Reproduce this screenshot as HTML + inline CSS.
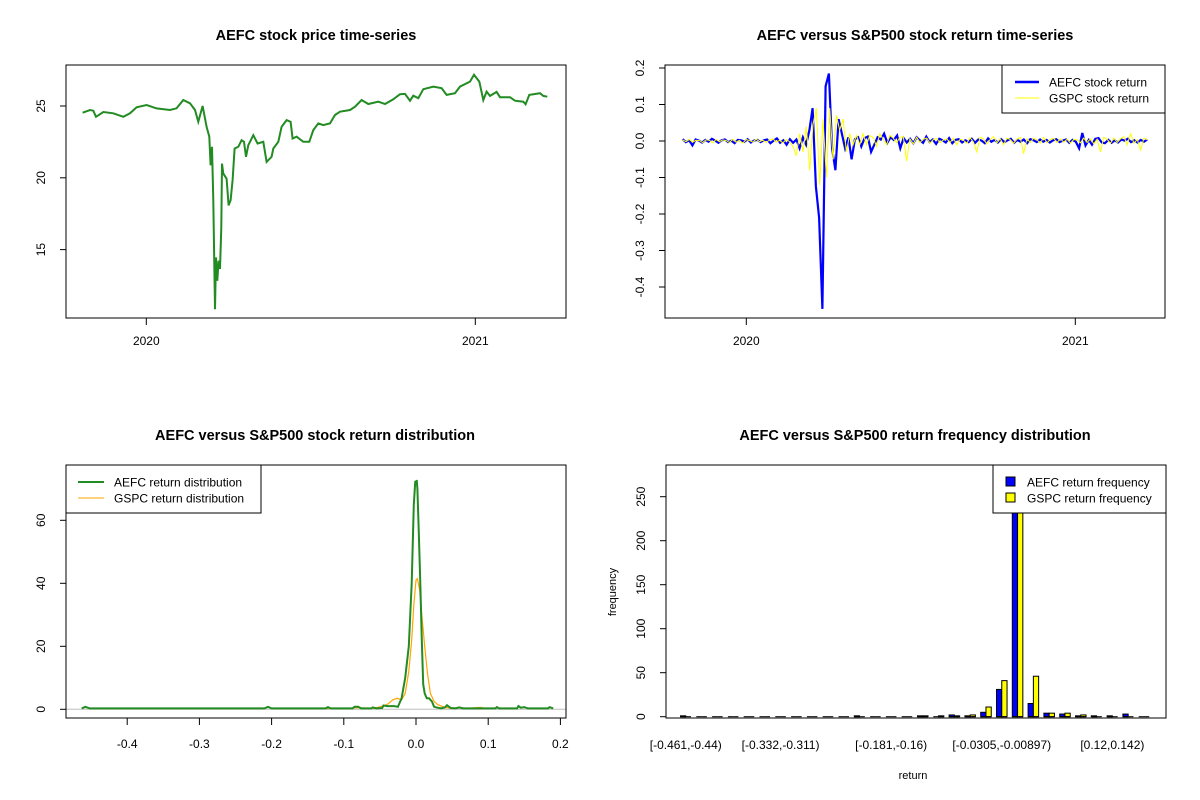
<!DOCTYPE html>
<html><head><meta charset="utf-8"><style>
html,body{margin:0;padding:0;background:#fff;}
svg{display:block;font-family:"Liberation Sans",Arial,sans-serif;}
</style></head><body>
<svg id="c" width="1200" height="800" viewBox="0 0 1200 800"></svg>
<script>
// ---------- DATA ----------
const priceYears = [-0.1935,-0.1712,-0.1611,-0.1530,-0.1307,-0.1003,-0.0699,-0.0496,-0.0294,0.0010,0.0314,0.0719,0.0922,0.1125,0.1327,0.1479,0.1581,0.1712,0.1834,0.1915,0.1955,0.1996,0.2036,0.2087,0.2118,0.2158,0.2199,0.2239,0.2280,0.2300,0.2340,0.2442,0.2503,0.2563,0.2624,0.2685,0.2796,0.2898,0.2969,0.3029,0.3100,0.3252,0.3384,0.3556,0.3658,0.3810,0.3860,0.4012,0.4113,0.4265,0.4387,0.4448,0.4569,0.4772,0.4954,0.5076,0.5228,0.5380,0.5583,0.5735,0.5887,0.6191,0.6342,0.6545,0.6748,0.7052,0.7254,0.7508,0.7710,0.7862,0.8014,0.8116,0.8267,0.8419,0.8723,0.8977,0.9129,0.9382,0.9534,0.9838,0.9959,1.0122,1.0243,1.0344,1.0446,1.0648,1.0750,1.1054,1.1206,1.1459,1.1530,1.1641,1.1966,1.2067,1.2188];
const priceValues = [24.53,24.72,24.67,24.25,24.58,24.49,24.25,24.49,24.91,25.07,24.83,24.72,24.84,25.42,25.19,24.72,23.90,25.00,23.55,22.86,20.87,22.16,18.43,10.85,14.46,12.83,14.23,13.65,16.56,20.99,20.29,19.94,18.08,18.43,19.83,22.04,22.16,22.62,22.51,21.46,22.27,22.97,22.39,22.51,21.11,21.46,22.04,22.51,23.55,24.02,23.90,22.74,22.86,22.51,22.51,23.32,23.79,23.67,23.79,24.37,24.60,24.72,24.95,25.42,25.14,25.30,25.14,25.47,25.82,25.84,25.37,25.72,25.54,26.17,26.35,26.24,25.77,25.89,26.35,26.70,27.17,26.70,25.42,26.00,25.70,25.98,25.61,25.61,25.37,25.30,25.12,25.77,25.89,25.70,25.65];
const priceTicks = [15,20,25];
const yearTicks = [0,1];
const yearLabels = ["2020","2021"];

const aefcReturns = [0.005,-0.003,0.002,-0.012,0.004,0.001,-0.004,0.003,-0.002,0.006,0.001,-0.005,0.002,0.004,-0.003,0.001,-0.006,0.003,0.002,-0.002,0.005,-0.004,0.001,0.003,-0.003,0.002,0.004,-0.006,0.001,0.007,-0.005,0.002,-0.01,0.005,
-0.005,0.004,-0.02,0.01,-0.01,0.03,0.09,-0.125,-0.21,-0.46,0.15,0.185,-0.02,-0.08,0.06,0.02,-0.02,0.01,-0.05,0.005,
0.01,-0.015,0.008,0.012,-0.03,-0.01,0.01,0.004,0.02,-0.005,0.01,0.003,0.015,-0.02,0.008,-0.004,0.006,-0.006,0.01,0.002,-0.005,0.012,-0.003,0.004,-0.008,0.006,0.002,-0.004,0.008,-0.006,0.003,0.005,-0.004,0.002,-0.003,0.006,-0.005,0.004,0.001,-0.006,0.007,-0.002,0.003,-0.004,0.005,-0.003,0.002,0.006,-0.005,0.003,-0.002,0.004,-0.006,0.005,0.002,-0.003,0.004,-0.002,0.003,-0.004,0.002,0.005,-0.003,0.001,0.004,-0.005,0.003,-0.002,-0.02,0.022,-0.012,0.003,-0.01,0.006,0.008,-0.004,-0.006,0.003,-0.005,0.002,-0.004,0.004,0.001,0.006,-0.003,0.002,-0.004,0.003,-0.002,0.004];
const gspcReturns = [0.003,-0.002,0.004,-0.003,0.002,0.001,-0.004,0.003,0.002,-0.005,0.004,-0.002,0.003,0.001,-0.004,0.005,-0.003,0.002,-0.006,0.004,0.001,-0.003,0.005,-0.002,0.002,-0.004,0.003,0.006,-0.003,0.002,-0.005,0.004,-0.002,
-0.015,-0.04,0.02,-0.03,0.04,-0.08,0.045,0.09,-0.12,0.06,-0.1,0.09,-0.05,0.07,0.03,0.06,-0.03,0.02,-0.01,0.015,-0.01,
0.02,-0.01,0.015,0.01,-0.015,0.02,0.005,-0.01,0.015,0.008,-0.005,0.01,0.012,-0.055,0.006,-0.008,0.01,-0.004,0.005,0.008,-0.006,0.004,0.007,-0.005,0.003,0.006,-0.004,0.008,-0.01,0.005,0.002,-0.006,0.009,-0.003,-0.03,0.01,0.006,-0.008,0.004,0.012,-0.005,0.006,-0.01,0.008,0.004,-0.006,0.005,0.01,-0.035,0.006,-0.004,0.008,0.003,-0.006,0.01,-0.005,0.004,0.007,-0.004,0.006,-0.003,0.005,-0.006,0.004,0.003,-0.005,0.008,-0.004,0.006,-0.008,0.005,-0.03,0.01,0.004,-0.006,0.008,-0.004,0.006,0.012,-0.01,0.02,-0.006,0.004,-0.025,0.008,0.003];
const returnTicks = [-0.4,-0.3,-0.2,-0.1,0.0,0.1,0.2];

const aefcDensX = [-0.463,-0.458,-0.452,-0.21,-0.205,-0.2,-0.125,-0.122,-0.118,-0.088,-0.085,-0.08,-0.076,-0.062,-0.06,-0.055,-0.047,-0.045,-0.04,-0.03,-0.025,-0.02,-0.015,-0.01,-0.006,-0.003,-0.001,0.0,0.001,0.002,0.004,0.006,0.008,0.01,0.012,0.015,0.018,0.022,0.025,0.03,0.035,0.04,0.043,0.048,0.055,0.06,0.065,0.11,0.112,0.115,0.14,0.142,0.145,0.15,0.155,0.183,0.185,0.19];
const aefcDensY = [0.3,0.8,0.3,0.3,0.8,0.3,0.3,0.7,0.3,0.3,0.8,0.8,0.3,0.3,0.6,0.3,0.4,1.2,1.0,1.0,0.8,3.5,10,20,40,65,72.5,71.5,72.8,70,55,40,22,8,5,3.5,3.5,2.5,0.8,0.5,0.3,0.6,1.3,0.4,0.3,0.6,0.3,0.3,0.7,0.3,0.3,1.0,0.5,0.7,0.3,0.3,0.7,0.3];
const gspcDensX = [-0.13,-0.1,-0.08,-0.06,-0.05,-0.04,-0.032,-0.026,-0.02,-0.015,-0.01,-0.006,-0.003,0.0,0.002,0.005,0.008,0.012,0.016,0.02,0.025,0.03,0.04,0.05,0.06,0.07,0.09,0.095];
const gspcDensY = [0.3,0.3,0.5,0.3,0.8,1.5,3.0,3.5,3,5,12,22,33,41,41.5,38,30,20,11,5,2.5,1.5,0.6,0.3,0.6,0.3,0.6,0.3];
const densXTicks = [-0.4,-0.3,-0.2,-0.1,0.0,0.1,0.2];
const densXLabels = ["-0.4","-0.3","-0.2","-0.1","0.0","0.1","0.2"];
const densYTicks = [0,20,40,60];

const binLabels = ["[-0.461,-0.44)","[-0.44,-0.418)","[-0.418,-0.397)","[-0.397,-0.375)","[-0.375,-0.354)","[-0.354,-0.332)","[-0.332,-0.311)","[-0.311,-0.289)","[-0.289,-0.267)","[-0.267,-0.246)","[-0.246,-0.224)","[-0.224,-0.203)","[-0.203,-0.181)","[-0.181,-0.16)","[-0.16,-0.138)","[-0.138,-0.117)","[-0.117,-0.0951)","[-0.0951,-0.0736)","[-0.0736,-0.052)","[-0.052,-0.0305)","[-0.0305,-0.00897)","[-0.00897,0.0125)","[0.0125,0.034)","[0.034,0.0556)","[0.0556,0.0771)","[0.0771,0.0986)","[0.0986,0.12)","[0.12,0.142)","[0.142,0.163)","[0.163,0.185]"];
const aefcFreq = [1,0,0,0,0,0,0,0,0,0,0,1,0,0,0,1,0,2,1,5,31,290,15,4,3,1,1,1,3,0];
const gspcFreq = [0,0,0,0,0,0,0,0,0,0,0,0,0,0,0,1,1,1,2,11,41,290,46,4,4,2,0,0,0,0];
const shownBins = [0,6,13,20,27];
const freqTicks = [0,50,100,150,200,250];

// ---------- DRAWING ----------
const NS="http://www.w3.org/2000/svg";
const svg=document.getElementById('c');
function mk(tag,attrs,parent){const e=document.createElementNS(NS,tag);for(const k in attrs)e.setAttribute(k,attrs[k]);(parent||svg).appendChild(e);return e;}
function txt(x,y,s,size,extra,parent){const e=mk('text',Object.assign({x:x,y:y,'font-size':size,'text-anchor':'middle',fill:'#000'},extra||{}),parent);e.textContent=s;return e;}
function line(x1,y1,x2,y2,parent){return mk('line',{x1:x1,y1:y1,x2:x2,y2:y2,stroke:'#000','stroke-width':1},parent);}

// Panel 1
{
 const g=mk('g',{});
 
 
 const L=66,R=566,T=65,B=318;
 const X=t=>146.3+t*329, Y=v=>106-(v-25)*14.36;
 const t=txt(316,40,'AEFC stock price time-series',14.5,{'font-weight':'bold'},g);
 
 
 const p=mk('polyline',{points:priceYears.map((d,i)=>X(d).toFixed(1)+','+Y(priceValues[i]).toFixed(1)).join(' '),fill:'none',stroke:'#228B22','stroke-width':2},g);
 
 
 const bx=mk('rect',{x:L,y:T,width:R-L,height:B-T,fill:'none',stroke:'#000'},g);
 
 
 priceTicks.forEach(v=>{line(L-6,Y(v),L,Y(v),g);const l=txt(0,0,String(v),12,{transform:`translate(45,${Y(v)}) rotate(-90)`},g);
  
  });
 yearTicks.forEach((v,i)=>{line(X(v),B,X(v),B+7,g);const l=txt(X(v),345,yearLabels[i],12,{},g);
  
  });
}
// Panel 2
{
 const g=mk('g',{});
 
 
 const L=665,R=1165,T=65,B=318;
 const X=t=>746.3+t*329, Y=r=>141-r*365;
 const t0=-0.1935,t1=1.2188;
 const t=txt(915,40,'AEFC versus S&P500 stock return time-series',14.5,{'font-weight':'bold'},g);
 
 
 const tx=(i,n)=>X(t0+(t1-t0)*i/(n-1));
 const pa=mk('polyline',{points:aefcReturns.map((r,i)=>tx(i,aefcReturns.length).toFixed(1)+','+Y(r).toFixed(1)).join(' '),fill:'none',stroke:'#0000FF','stroke-width':2.2},g);
 
 
 const pg=mk('polyline',{points:gspcReturns.map((r,i)=>tx(i,gspcReturns.length).toFixed(1)+','+Y(r).toFixed(1)).join(' '),fill:'none',stroke:'#FFFF00','stroke-width':1},g);
 
 
 const bx=mk('rect',{x:L,y:T,width:R-L,height:B-T,fill:'none',stroke:'#000'},g);
 
 
 returnTicks.forEach(v=>{line(L-6,Y(v),L,Y(v),g);const l=txt(0,0,v.toFixed(1),12,{transform:`translate(644,${Y(v)}) rotate(-90)`},g);
  
  });
 yearTicks.forEach((v,i)=>{line(X(v),B,X(v),B+7,g);const l=txt(X(v),345,yearLabels[i],12,{},g);
  
  });
 const lg=mk('g',{},g);
 
 
 mk('rect',{x:1002,y:65,width:163,height:48,fill:'#fff',stroke:'#000'},lg);
 mk('line',{x1:1015,y1:82,x2:1039,y2:82,stroke:'#0000FF','stroke-width':2.5},lg);
 mk('line',{x1:1015,y1:98,x2:1039,y2:98,stroke:'#FFFF00','stroke-width':1},lg);
 txt(1049,86.5,'AEFC stock return',12,{'text-anchor':'start'},lg);
 txt(1049,102.5,'GSPC stock return',12,{'text-anchor':'start'},lg);
}
// Panel 3
{
 const g=mk('g',{});
 
 
 const L=66,R=566,T=465,B=718;
 const X=v=>416+v*722, Y=d=>709.3-d*3.15;
 const t=txt(315,440,'AEFC versus S&P500 stock return distribution',14.5,{'font-weight':'bold'},g);
 
 
 const z=mk('line',{x1:L,y1:Y(0),x2:R,y2:Y(0),stroke:'#BEBEBE','stroke-width':1},g);
 
 
 const po=mk('polyline',{points:gspcDensX.map((x,i)=>X(x).toFixed(1)+','+Y(gspcDensY[i]).toFixed(1)).join(' '),fill:'none',stroke:'#FFA500','stroke-width':1.2},g);
 
 
 const pgr=mk('polyline',{points:aefcDensX.map((x,i)=>X(x).toFixed(1)+','+Y(aefcDensY[i]).toFixed(1)).join(' '),fill:'none',stroke:'#228B22','stroke-width':2},g);
 
 
 const bx=mk('rect',{x:L,y:T,width:R-L,height:B-T,fill:'none',stroke:'#000'},g);
 
 
 densYTicks.forEach(v=>{line(L-6,Y(v),L,Y(v),g);const l=txt(0,0,String(v),12,{transform:`translate(45,${Y(v)}) rotate(-90)`},g);
  
  });
 densXTicks.forEach((v,i)=>{line(X(v),B,X(v),B+7,g);const l=txt(X(v),748,densXLabels[i],12,{},g);
  
  });
 const lg=mk('g',{},g);
 
 
 mk('rect',{x:L,y:465,width:195,height:48,fill:'#fff',stroke:'#000'},lg);
 mk('line',{x1:78,y1:482,x2:104,y2:482,stroke:'#228B22','stroke-width':2},lg);
 mk('line',{x1:78,y1:498,x2:104,y2:498,stroke:'#FFA500','stroke-width':1},lg);
 txt(114,486.5,'AEFC return distribution',12,{'text-anchor':'start'},lg);
 txt(114,502.5,'GSPC return distribution',12,{'text-anchor':'start'},lg);
}
// Panel 4
{
 const g=mk('g',{});
 
 
 const L=666,R=1166,T=465,B=718;
 const Y=n=>716.7-n*0.88;
 const G=i=>680.5+i*15.8, W=5.27;
 const t=txt(915,440,'AEFC versus S&P500 return frequency distribution',14.5,{'font-weight':'bold'},g);
 
 
 const defs=mk('defs',{},g);
 const cp=mk('clipPath',{id:'hc'},defs);
 mk('rect',{x:L,y:T,width:R-L,height:B-T},cp);
 const bars=mk('g',{'clip-path':'url(#hc)'},g);
 aefcFreq.forEach((n,i)=>{const r=mk('rect',{x:G(i),y:Y(n),width:W,height:Y(0)-Y(n),fill:'#0000FF',stroke:'#000','stroke-width':1},bars);
  
  
  line(G(i),Y(0),G(i)+W,Y(0),bars);});
 gspcFreq.forEach((n,i)=>{const r=mk('rect',{x:G(i)+W,y:Y(n),width:W,height:Y(0)-Y(n),fill:'#FFFF00',stroke:'#000','stroke-width':1},bars);
  
  
  line(G(i)+W,Y(0),G(i)+2*W,Y(0),bars);});
 const bx=mk('rect',{x:L,y:T,width:R-L,height:B-T,fill:'none',stroke:'#000'},g);
 
 
 freqTicks.forEach(v=>{line(L-6,Y(v),L,Y(v),g);const l=txt(0,0,String(v),12,{transform:`translate(645,${Y(v)}) rotate(-90)`},g);
  
  });
 shownBins.forEach(i=>{const l=txt(G(i)+W,749,binLabels[i],12,{},g);
  
  });
 const yt=txt(0,0,'frequency',11,{transform:'translate(616,592) rotate(-90)'},g);
 
 
 const xt=txt(913,779,'return',11,{},g);
 
 
 const lg=mk('g',{},g);
 
 
 mk('rect',{x:993,y:465,width:173,height:48,fill:'#fff',stroke:'#000'},lg);
 mk('rect',{x:1006,y:477,width:9,height:9,fill:'#0000FF',stroke:'#000'},lg);
 mk('rect',{x:1006,y:493,width:9,height:9,fill:'#FFFF00',stroke:'#000'},lg);
 txt(1027,486.5,'AEFC return frequency',12,{'text-anchor':'start'},lg);
 txt(1027,502.5,'GSPC return frequency',12,{'text-anchor':'start'},lg);
}
</script>
</body></html>
